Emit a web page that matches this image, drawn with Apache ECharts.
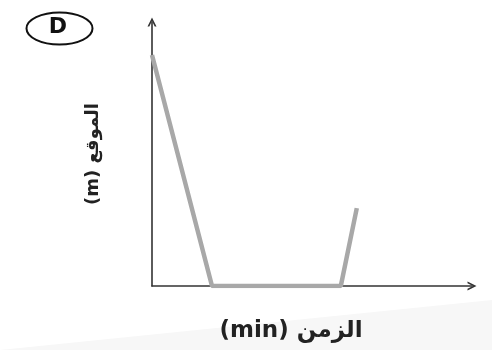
<!DOCTYPE html>
<html>
<head>
<meta charset="utf-8">
<script src="https://cdn.jsdelivr.net/npm/echarts@6/dist/echarts.min.js"></script>
<style>html,body{margin:0;padding:0;background:#fff}#c{width:492px;height:350px}</style>
</head>
<body>
<div id="c"></div>
<script>
const timeValues = [0, 1.875, 5.9, 6.4];
const positionValues = [8.75, 0, 0, 2.95];
const xLabel = '(min) الزمن';
const yLabel = '(m) الموقع';
const panelLetter = 'D';

const chart = echarts.init(document.getElementById('c'));
const arrowPath = 'path://M0,10 L5,0 L10,10 L8,10 L5,4 L2,10 Z';
const axisLineStyle = {
  show: true,
  symbol: ['none', arrowPath],
  symbolSize: [11, 9],
  lineStyle: { color: '#333', width: 1.6 }
};
chart.setOption({
  animation: false,
  backgroundColor: '#fff',
  grid: { left: 152, right: 20, top: 22, bottom: 64 },
  xAxis: {
    type: 'value', min: 0, max: 10,
    axisLine: axisLineStyle,
    axisTick: { show: false }, axisLabel: { show: false }, splitLine: { show: false }
  },
  yAxis: {
    type: 'value', min: 0, max: 10,
    axisLine: axisLineStyle,
    axisTick: { show: false }, axisLabel: { show: false }, splitLine: { show: false },
    name: yLabel, nameLocation: 'middle', nameGap: 50, nameRotate: 90,
    nameTextStyle: { fontFamily: 'DejaVu Sans', fontWeight: 'bold', fontSize: 18, color: '#222' }
  },
  graphic: [
    { type: 'polygon', z: -10, shape: { points: [[0, 350], [492, 300], [492, 350]] }, style: { fill: '#f7f7f7' } },
    { type: 'ellipse', left: 24, top: 10, shape: { cx: 34, cy: 17, rx: 33, ry: 16 }, style: { fill: 'none', stroke: '#111', lineWidth: 2 } },
    { type: 'text', x: 58, y: 27, style: { text: panelLetter, font: 'bold 22px "DejaVu Sans"', fill: '#111', align: 'center', verticalAlign: 'middle' } },
    { type: 'text', x: 291, y: 331, style: { text: xLabel, font: 'bold 23px "DejaVu Sans"', fill: '#222', align: 'center', verticalAlign: 'middle' } }
  ],
  series: [{
    type: 'line',
    data: timeValues.map((t, i) => [t, positionValues[i]]),
    symbol: 'none',
    lineStyle: { color: '#a8a8a8', width: 4.5 },
    z: 1
  }]
});
</script>
</body>
</html>
